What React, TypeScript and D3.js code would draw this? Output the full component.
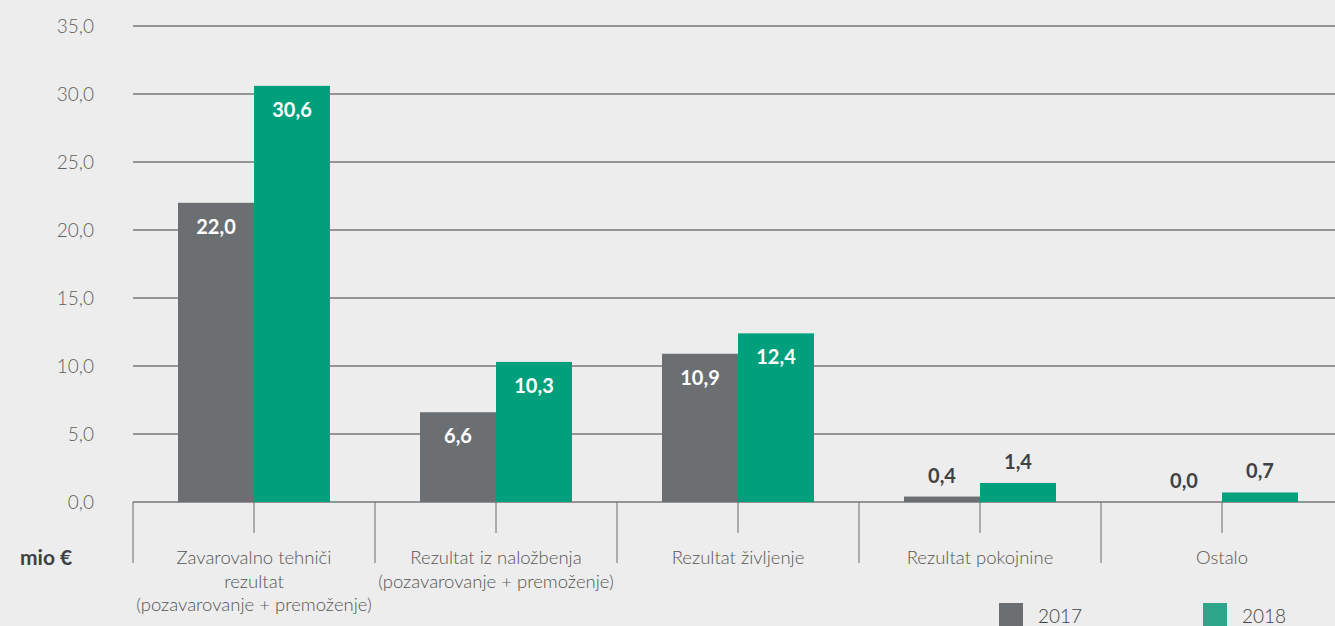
import * as d3 from 'd3';

const categories = [
  ['Zavarovalno tehniči', 'rezultat', '(pozavarovanje + premoženje)'],
  ['Rezultat iz naložbenja', '(pozavarovanje + premoženje)'],
  ['Rezultat življenje'],
  ['Rezultat pokojnine'],
  ['Ostalo'],
];
const years = ['2017', '2018'];
const values2017 = [22.0, 6.6, 10.9, 0.4, 0.0];
const values2018 = [30.6, 10.3, 12.4, 1.4, 0.7];
const yTicks = [0, 5, 10, 15, 20, 25, 30, 35];

const W = 1335;
const H = 626;
const GREY = '#6c6f71';
const GREEN = '#00a07c';
const fmt = (v: number) => d3.format('.1f')(v).replace('.', ',');

export default function App() {
  const keys = categories.map((_, i) => String(i));
  const x = d3.scaleBand().domain(keys).range([133, 1343]).padding(0);
  const inner = d3.scaleBand().domain(years).range([45, x.bandwidth() - 45]).padding(0);
  const y = d3.scaleLinear().domain([0, 35]).range([502, 26]);
  const series = [values2017, values2018];
  const colors = [GREY, GREEN];
  const font = 'Lato, "Open Sans", sans-serif';

  return (
    <svg width={W} height={H} style={{ position: 'absolute', left: 0, top: 0 }} fontFamily={font}>
      <rect width={W} height={H} fill="#ededed" />
      {/* grid + y labels */}
      {yTicks.map((t) => (
        <g key={t}>
          <line x1={133} x2={W} y1={y(t)} y2={y(t)} stroke="#3c3c3c" strokeWidth={1} />
          <text x={94} y={y(t)} dy="0.35em" textAnchor="end" fontSize={19} fontWeight={300} fill="#5f5f5f">
            {fmt(t)}
          </text>
        </g>
      ))}
      {/* category ticks */}
      {keys.map((k) => (
        <g key={k}>
          <line x1={x(k)!} x2={x(k)!} y1={502} y2={563} stroke="#6a6a6a" />
          <line x1={x(k)! + x.bandwidth() / 2} x2={x(k)! + x.bandwidth() / 2} y1={502} y2={533} stroke="#6a6a6a" />
        </g>
      ))}
      {/* bars */}
      {series.map((vals, s) =>
        vals.map((v, i) => {
          const bx = x(keys[i])! + inner(years[s])!;
          const bw = inner.bandwidth();
          const top = y(v);
          const inside = v > 5;
          return (
            <g key={`${s}-${i}`}>
              <rect x={bx} y={top} width={bw} height={y(0) - top} fill={colors[s]} />
              <text
                x={bx + bw / 2}
                y={inside ? top + 31 : top - 14}
                textAnchor="middle"
                fontSize={20}
                fontWeight={700}
                fill={inside ? '#ffffff' : '#3f4244'}
              >
                {fmt(v)}
              </text>
            </g>
          );
        })
      )}
      {/* category labels */}
      {categories.map((lines, i) => (
        <text
          key={i}
          x={x(keys[i])! + x.bandwidth() / 2}
          y={564}
          textAnchor="middle"
          fontSize={18.5}
          fontWeight={300}
          fill="#555"
        >
          {lines.map((l, j) => (
            <tspan key={j} x={x(keys[i])! + x.bandwidth() / 2} dy={j === 0 ? 0 : 23.5}>
              {l}
            </tspan>
          ))}
        </text>
      ))}
      <text x={20} y={565} fontSize={21} fontWeight={700} fill="#3f4244">
        mio €
      </text>
      {/* legend */}
      {years.map((yr, i) => (
        <g key={yr} transform={`translate(${999 + i * 204},603)`}>
          <rect width={24} height={24} fill={i === 0 ? GREY : '#2ea68a'} />
          <text x={39} y={20} fontSize={19} fontWeight={300} fill="#3f4244">
            {yr}
          </text>
        </g>
      ))}
    </svg>
  );
}
